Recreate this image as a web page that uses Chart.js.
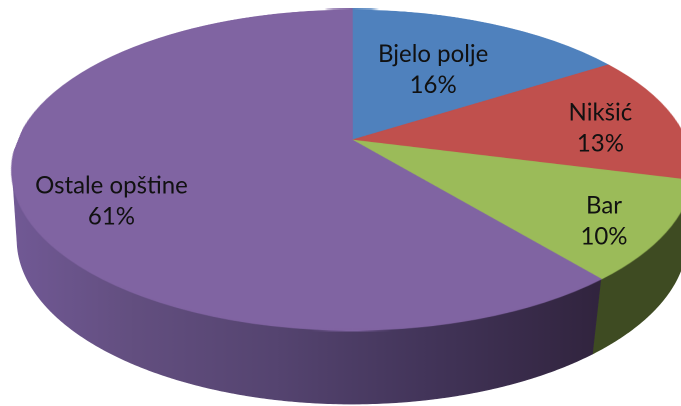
<!DOCTYPE html>
<html><head><meta charset="utf-8">
<script src="https://cdn.jsdelivr.net/npm/chart.js@4.4.1/dist/chart.umd.min.js"></script>
<style>html,body{margin:0;padding:0;background:#fff;overflow:hidden}canvas{display:block}</style>
</head><body>
<canvas id="c" width="681" height="406" style="width:681px;height:406px"></canvas>
<script>
// ---- data ----
const categories = ['Bjelo polje', 'Nikšić', 'Bar', 'Ostale opštine'];
const shares = [16, 13, 10, 61];
const topColors = ['#4F81BD', '#C0504D', '#9BBB59', '#8064A2'];
const sideColors = ['#2A4566', '#682B29', '#3E4B22', '#4B3A63'];

// ---- layout (perspective of the 3D disc) ----
const TOP = {cx: 352, cy: 140, A: 334, B: 154.4, p: 0.1875};
const BOT = {cx: 352, cy: 213, A: 330.7, B: 160.5, p: 0.16};
const labelFrac = [[0.55, 0.5], [0.77, 0.17], [0.82, 0.97], [0.73, 1.22]];

function proj(g, a, f) {
  f = (f === undefined) ? 1 : f;
  const u = f * Math.cos(a), w = -f * Math.sin(a);
  const s = 1 / (1 + g.p * w);
  return [g.cx + g.A * u * s, g.cy - g.B * w * s];
}
function wAt(Y) {
  const d = Y - TOP.cy;
  let w = -d / (TOP.B + TOP.p * d);
  return Math.max(-1, Math.min(1, w));
}
function sideFill(ctx, i) {
  if (i === 3) {
    const g = ctx.createLinearGradient(13, 0, 600, 0);
    g.addColorStop(0, '#715995');
    g.addColorStop(0.2, '#634f80');
    g.addColorStop(0.45, '#554470');
    g.addColorStop(0.7, '#43355a');
    g.addColorStop(1, '#31243e');
    return g;
  }
  return sideColors[i];
}

const pie3d = {
  id: 'pie3d',
  afterDatasetsDraw(chart) {
    const arcs = chart.getDatasetMeta(0).data;
    if (!arcs.length) return;
    const canvas = chart.canvas, ctx = chart.ctx, dpr = chart.currentDevicePixelRatio;
    const off = document.createElement('canvas');
    off.width = canvas.width; off.height = canvas.height;
    off.getContext('2d').drawImage(canvas, 0, 0);
    ctx.save();
    ctx.setTransform(1, 0, 0, 1, 0, 0);
    ctx.clearRect(0, 0, canvas.width, canvas.height);
    ctx.setTransform(dpr, 0, 0, dpr, 0, 0);
    // side walls (front-facing part only)
    const a0 = Math.asin(TOP.p) - 0.01, a1 = Math.PI - a0;
    arcs.forEach((arc, i) => {
      const s = arc.startAngle, e = arc.endAngle;
      for (const k of [-2, 0, 2]) {
        const lo = Math.max(s, a0 + k * Math.PI), hi = Math.min(e, a1 + k * Math.PI);
        if (hi <= lo) continue;
        const n = Math.max(8, Math.ceil((hi - lo) * 150));
        ctx.beginPath();
        for (let j = 0; j <= n; j++) {
          const a = lo + (hi - lo) * j / n; const pt = proj(TOP, a);
          if (j) ctx.lineTo(pt[0], pt[1]); else ctx.moveTo(pt[0], pt[1]);
        }
        for (let j = n; j >= 0; j--) {
          const a = lo + (hi - lo) * j / n; const pt = proj(BOT, a);
          ctx.lineTo(pt[0], pt[1]);
        }
        ctx.closePath();
        ctx.fillStyle = sideFill(ctx, i);
        ctx.fill();
        ctx.strokeStyle = ctx.fillStyle; ctx.lineWidth = 0.6; ctx.stroke();
      }
    });
    // top face: perspective warp of the pie Chart.js drew
    const R = arcs[0].outerRadius, ox = arcs[0].x, oy = arcs[0].y;
    const yTop = TOP.cy - TOP.B / (1 + TOP.p), yBot = TOP.cy + TOP.B / (1 - TOP.p);
    const step = 1 / dpr;
    for (let Y = Math.floor(yTop) - 1; Y < yBot + 1; Y += step) {
      const w0 = wAt(Y), w1 = wAt(Y + step);
      const v0 = oy - R * w0, v1 = oy - R * w1;
      const sh = Math.max(0.5 / dpr, v1 - v0);
      const wm = (w0 + w1) / 2;
      const sc = 1 / (1 + TOP.p * wm);
      const hw = TOP.A * sc;
      ctx.drawImage(off, (ox - R) * dpr, v0 * dpr, 2 * R * dpr, sh * dpr,
                    TOP.cx - hw, Y, 2 * hw, step + 0.02);
    }
    ctx.restore();
  },
  afterDraw(chart) {
    const arcs = chart.getDatasetMeta(0).data;
    const total = shares.reduce((a, b) => a + b, 0);
    const ctx = chart.ctx;
    ctx.save();
    ctx.font = '24px Lato';
    ctx.fillStyle = '#111';
    ctx.textAlign = 'center';
    ctx.textBaseline = 'alphabetic';
    arcs.forEach((arc, i) => {
      const mid = (arc.startAngle + arc.endAngle) / 2;
      const x = proj(TOP, mid, labelFrac[i][0])[0];
      const y = proj(TOP, mid, labelFrac[i][1])[1];
      ctx.fillText(categories[i], x, y - 15.5);
      ctx.fillText(Math.round(shares[i] / total * 100) + '%', x, y + 15.5);
    });
    ctx.restore();
  }
};

new Chart(document.getElementById('c'), {
  type: 'pie',
  data: {
    labels: categories,
    datasets: [{
      data: shares,
      backgroundColor: topColors,
      borderColor: topColors,
      borderWidth: 1
    }]
  },
  options: {
    responsive: false,
    devicePixelRatio: 2,
    animation: false,
    events: [],
    layout: {padding: 0},
    plugins: {legend: {display: false}, tooltip: {enabled: false}}
  },
  plugins: [pie3d]
});
</script>
</body></html>
